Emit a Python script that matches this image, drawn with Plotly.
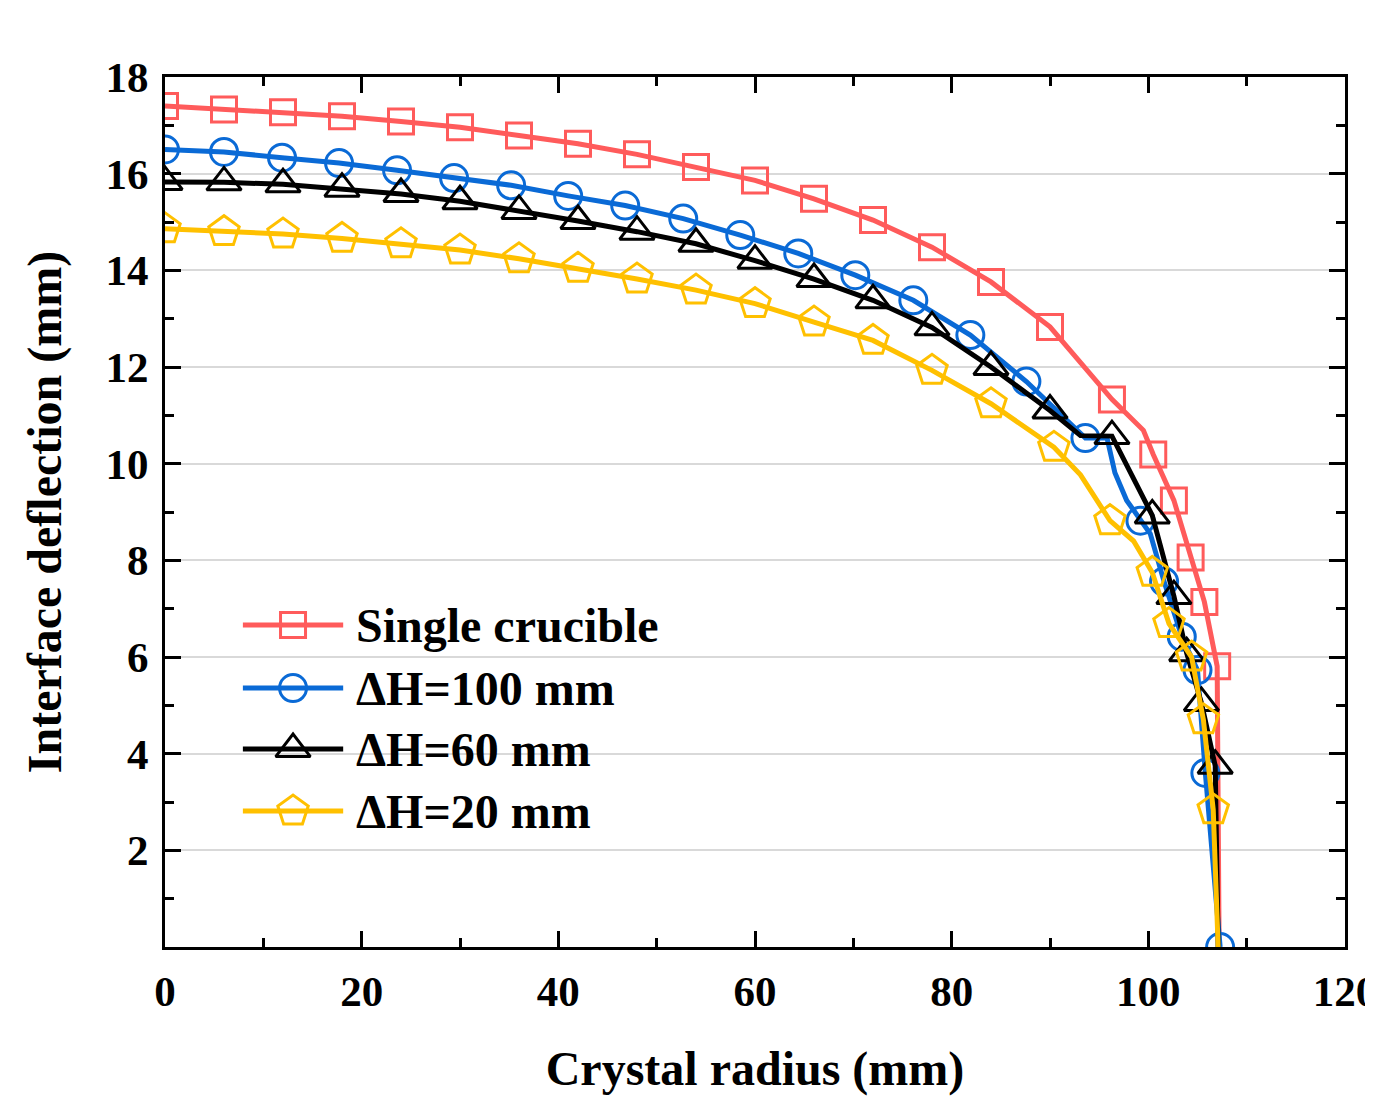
import plotly.graph_objects as go

# ---------------- data ----------------
red_x = [0, 6, 12, 18, 24, 30, 36, 42, 48, 54, 60, 66, 72, 78, 84, 90, 96.3, 99.5, 100.5, 102.6, 104.3, 105.7, 107.0, 107.2]
red_y = [17.40, 17.33, 17.27, 17.19, 17.08, 16.96, 16.79, 16.62, 16.40, 16.14, 15.86, 15.48, 15.04, 14.48, 13.76, 12.83, 11.33, 10.69, 10.19, 9.24, 8.06, 7.14, 5.81, 0.0]
red_plain = [17, 23]          # path vertices without a symbol

blue_x = [0, 6.0, 11.9, 17.7, 23.6, 29.4, 35.2, 41.0, 46.8, 52.7, 58.5, 64.4, 70.2, 76.1, 81.9, 87.6, 93.6, 95.8, 96.6, 97.8, 99.2, 100.2, 101.6, 103.4, 105.0, 105.8, 107.3]
blue_y = [16.50, 16.45, 16.33, 16.22, 16.07, 15.91, 15.76, 15.54, 15.34, 15.07, 14.73, 14.35, 13.90, 13.38, 12.66, 11.70, 10.53, 10.53, 9.81, 9.24, 8.82, 8.55, 7.56, 6.42, 5.73, 3.60, 0.0]
blue_plain = [17, 18, 19, 21]

black_x = [0, 6, 12, 18, 24, 30, 36, 42, 48, 54, 60, 66, 72, 78, 84, 90, 93.1, 96.3, 100.4, 102.6, 103.9, 105.4, 106.8, 107.1]
black_y = [15.83, 15.82, 15.78, 15.69, 15.58, 15.43, 15.23, 15.02, 14.80, 14.55, 14.20, 13.82, 13.38, 12.82, 12.00, 11.10, 10.58, 10.57, 8.93, 7.26, 6.08, 5.05, 3.75, 0.0]
black_plain = [16, 23]

yellow_x = [0, 6, 12, 18, 24, 30, 36, 42, 48, 54, 60, 66, 72, 78, 84, 90.4, 93.1, 96.1, 98.5, 100.4, 102.1, 104.4, 105.6, 106.6, 107.1]
yellow_y = [14.86, 14.80, 14.75, 14.66, 14.55, 14.42, 14.24, 14.04, 13.82, 13.59, 13.31, 12.93, 12.55, 11.93, 11.24, 10.34, 9.77, 8.82, 8.40, 7.75, 6.69, 6.00, 4.70, 2.84, 0.0]
yellow_plain = [16, 18, 24]

series_names = ["Single crucible", "\u0394H=100 mm", "\u0394H=60 mm", "\u0394H=20 mm"]

x_ticks = [0, 20, 40, 60, 80, 100, 120]
y_ticks = [2, 4, 6, 8, 10, 12, 14, 16, 18]

# ---------------- styling ----------------
FONT = "Liberation Serif, Times New Roman, serif"
colors = ["#FF5B5B", "#0A6AD6", "#000000", "#FFC000"]
symbols = ["square-open", "circle-open", "triangle-up-open", "pentagon-open"]
msizes = [25, 27, 30, 32]

data = [(red_x, red_y, red_plain), (blue_x, blue_y, blue_plain),
        (black_x, black_y, black_plain), (yellow_x, yellow_y, yellow_plain)]

fig = go.Figure()
for (xs, ys, plain), name, c, sym, ms in zip(data, series_names, colors, symbols, msizes):
    fig.add_trace(go.Scatter(x=xs, y=ys, mode="lines", line=dict(color=c, width=5),
                             name=name, showlegend=False, hoverinfo="skip"))
    mx = [v for i, v in enumerate(xs) if i not in plain]
    my = [v for i, v in enumerate(ys) if i not in plain]
    fig.add_trace(go.Scatter(x=mx, y=my, mode="markers", name=name, showlegend=False,
                             marker=dict(symbol=sym, size=ms, color=c,
                                         line=dict(color=c, width=3))))

# ---------------- custom legend (overlay axes in plot fractions) ----------------
leg_rows = [0.370, 0.2976, 0.2275, 0.1563]
leg_x0, leg_x1, leg_xm, leg_tx = 0.066, 0.151, 0.1085, 0.160
for row, name, c, sym, ms in zip(leg_rows, series_names, colors, symbols, msizes):
    fig.add_trace(go.Scatter(x=[leg_x0, leg_x1], y=[row, row], mode="lines",
                             line=dict(color=c, width=5), xaxis="x2", yaxis="y2",
                             showlegend=False, hoverinfo="skip"))
    fig.add_trace(go.Scatter(x=[leg_xm], y=[row], mode="markers", xaxis="x2", yaxis="y2",
                             showlegend=False, hoverinfo="skip",
                             marker=dict(symbol=sym, size=ms, color=c,
                                         line=dict(color=c, width=3))))
    fig.add_annotation(x=leg_tx, y=row, xref="paper", yref="paper", text=name,
                       showarrow=False, xanchor="left", yanchor="middle",
                       font=dict(family=FONT, size=48, color="black", weight="bold"))

axis_common = dict(showline=True, linecolor="black", linewidth=3, mirror="ticks",
                   ticks="inside", tickcolor="black", tickwidth=3, ticklen=16,
                   tickfont=dict(family=FONT, size=43, color="black", weight="bold"),
                   zeroline=False, automargin=False, ticklabeloverflow="allow")

fig.update_layout(
    width=1373, height=1098,
    margin=dict(l=157, r=36, t=69, b=159),
    paper_bgcolor="white", plot_bgcolor="white",
    showlegend=False,
    xaxis=dict(range=[0, 120], tickvals=x_ticks, showgrid=False,
               minor=dict(dtick=10, tick0=0, ticks="inside", ticklen=9, tickwidth=3,
                          tickcolor="black", showgrid=False),
               ticklabelstandoff=4,
               title=dict(text="Crystal radius (mm)", standoff=38,
                          font=dict(family=FONT, size=48, color="black", weight="bold")),
               **axis_common),
    yaxis=dict(range=[0, 18], tickvals=y_ticks, showgrid=True, gridcolor="#d9d9d9", gridwidth=2,
               minor=dict(dtick=1, tick0=0, ticks="inside", ticklen=9, tickwidth=3,
                          tickcolor="black", showgrid=False),
               ticklabelstandoff=5,
               title=dict(text="Interface deflection (mm)", standoff=29,
                          font=dict(family=FONT, size=48, color="black", weight="bold")),
               **axis_common),
    xaxis2=dict(range=[0, 1], overlaying="x", anchor="y2", visible=False),
    yaxis2=dict(range=[0, 1], overlaying="y", anchor="x2", visible=False),
)

fig.write_html("out.html")
